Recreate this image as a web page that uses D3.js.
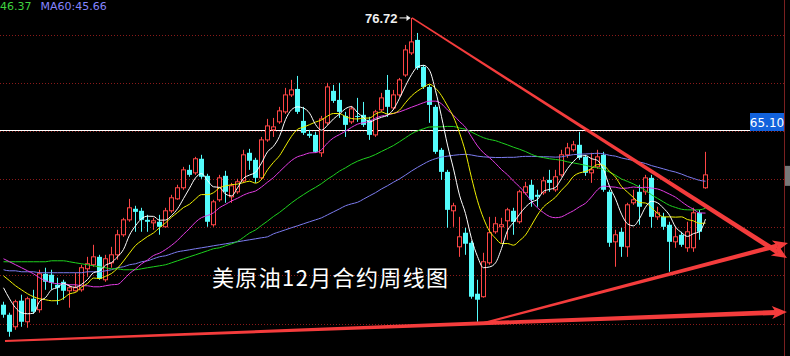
<!DOCTYPE html>
<html><head><meta charset="utf-8">
<script src="https://cdn.jsdelivr.net/npm/d3@7"></script>
<style>html,body{margin:0;padding:0;background:#000;overflow:hidden}svg{display:block}</style>
</head><body><svg id="c" width="790" height="356"></svg>
<script>
// ---- data (weekly candles, USD) ----
const open=[46.95,45.91,44.66,47.37,45.18,47.57,46.43,50.16,50.06,49.02,
49.33,48.40,48.40,48.50,50.68,51.10,51.92,49.54,51.30,52.13,
54.21,55.76,56.91,56.70,55.76,55.45,55.56,55.04,56.70,57.94,
59.09,60.95,60.64,62.10,60.33,55.25,57.84,60.33,58.15,58.67,
59.81,62.72,61.99,60.12,64.06,65.10,65.93,66.97,68.73,69.35,
66.03,64.69,64.58,62.72,65.83,69.15,68.21,66.55,65.93,66.55,
66.66,66.14,64.58,67.18,69.25,67.38,68.73,70.80,73.09,74.44,
71.64,69.56,67.49,63.03,60.74,56.70,52.96,54.42,53.38,48.09,
47.78,51.30,54.52,55.04,55.66,56.70,55.56,58.57,59.40,58.36,
58.57,59.91,58.88,60.43,62.51,63.03,63.55,62.30,60.64,61.26,
62.51,58.67,53.48,54.52,52.96,57.53,58.67,58.67,60.12,56.07,
56.07,55.25,53.48,54.21,52.86,52.86,56.49,59.09];
const high=[47.26,46.12,47.47,47.99,47.78,48.50,50.58,50.79,50.58,49.75,
49.54,49.02,50.27,51.10,51.92,53.17,52.13,52.13,52.96,54.73,
55.97,57.94,57.22,57.01,56.28,55.97,56.28,57.01,58.36,59.40,
61.26,61.47,62.30,62.51,60.54,57.84,60.43,60.85,59.60,60.02,
63.03,63.13,62.20,64.37,66.24,66.34,67.49,69.46,70.29,70.70,
67.49,65.10,64.89,66.55,69.98,69.77,69.98,66.97,67.59,68.42,
68.00,66.45,67.18,68.94,70.80,69.25,70.49,73.92,76.72,75.16,
71.84,69.77,67.69,63.23,60.95,57.53,56.07,54.94,53.59,49.54,
52.34,56.07,56.07,55.97,57.01,57.01,58.88,59.71,59.91,58.88,
60.23,60.95,60.95,63.03,63.75,63.96,64.89,62.51,62.72,63.03,
62.82,58.88,54.73,54.94,57.53,58.88,59.40,60.43,60.43,57.12,
56.49,55.56,55.04,54.52,55.56,57.01,56.80,62.82];
const low=[45.60,43.63,44.35,44.66,44.56,46.01,46.12,48.50,48.50,46.95,
47.47,46.64,48.30,48.30,49.85,50.89,49.54,49.33,50.79,51.62,
54.00,55.56,54.52,54.52,54.52,54.73,54.21,54.94,56.49,57.84,
58.88,60.23,60.43,60.02,55.04,55.04,57.63,57.53,57.53,58.46,
59.60,60.95,59.60,59.91,63.86,64.37,65.72,66.76,68.52,66.76,
64.58,64.27,62.72,62.30,65.62,67.90,66.34,64.37,65.72,65.93,
65.41,64.06,64.37,66.97,66.45,67.18,68.52,70.60,72.88,71.32,
69.35,65.83,62.61,59.91,54.94,55.04,51.92,52.13,47.57,45.18,
47.68,51.10,54.31,53.38,53.69,54.21,55.35,58.36,57.12,57.12,
58.36,58.67,58.67,60.23,62.20,62.82,61.99,60.33,59.60,61.06,
58.67,52.96,50.89,51.92,51.92,57.32,55.25,58.36,54.94,55.76,
54.73,50.37,52.86,52.96,52.44,52.44,53.69,58.98];
const close=[45.91,44.14,47.26,45.18,47.57,46.22,50.16,49.33,49.23,48.71,
48.40,48.71,48.71,50.79,51.20,51.92,49.64,51.72,52.13,54.21,
55.76,57.01,56.59,55.76,55.56,55.66,55.04,56.70,58.05,59.09,
60.95,60.43,62.10,60.23,55.56,57.63,60.12,58.67,59.29,59.71,
62.51,61.89,60.12,64.06,65.51,65.41,67.07,68.73,69.25,66.97,
64.79,64.48,62.82,66.24,69.56,68.11,66.97,65.62,67.28,66.45,
65.62,64.58,66.97,68.42,67.49,68.73,70.29,73.40,74.23,71.53,
69.56,67.69,62.82,60.74,56.80,57.22,54.00,53.28,47.78,47.47,
51.41,54.42,55.35,55.25,56.80,55.56,58.67,59.19,57.84,58.15,
59.81,59.60,60.23,62.51,63.23,63.55,62.20,60.64,60.95,62.30,
58.88,53.38,54.21,52.96,57.32,57.84,57.12,60.12,56.07,56.49,
55.04,53.48,54.00,53.17,54.52,56.49,54.52,60.43];
// moving-average lines
const ma5=[48.71,47.57,46.64,46.12,
46.01,46.07,47.28,47.69,48.50,48.73,49.17,48.88,48.75,49.06,
49.56,50.27,50.45,51.05,51.32,51.92,52.69,54.17,55.14,55.87,
56.14,56.12,55.72,55.74,56.20,56.91,57.97,59.04,60.12,60.56,
59.85,59.19,59.13,58.44,58.25,59.08,60.06,60.41,60.70,61.66,
62.82,63.40,64.43,66.16,67.19,67.49,67.36,66.84,65.66,65.06,
65.58,66.24,66.74,67.30,67.51,66.89,66.39,65.91,66.18,66.41,
66.62,67.24,68.38,69.67,70.83,71.64,71.80,71.28,69.17,66.47,
63.52,61.05,58.32,56.41,53.82,51.95,50.79,50.87,51.29,52.78,
54.65,55.48,56.33,57.09,57.61,57.88,58.73,58.92,59.13,60.06,
61.08,61.82,62.34,62.43,62.11,61.93,60.99,59.23,57.94,56.35,
55.35,55.14,55.89,57.07,57.69,57.53,56.97,56.24,55.02,54.44,
54.04,54.33,54.54,55.83];
const ma10=[49.95,49.44,48.92,48.50,48.09,47.78,47.57,47.47,47.36,
47.37,47.62,48.08,48.22,48.78,49.15,49.72,49.66,49.90,50.19,
50.74,51.48,52.31,53.10,53.59,54.03,54.40,54.94,55.44,56.03,
56.52,57.04,57.38,57.93,58.38,58.38,58.58,59.09,59.28,59.41,
59.47,59.63,59.77,59.57,59.96,60.95,61.73,62.42,63.43,64.43,
65.15,65.38,65.64,65.91,66.13,66.53,66.80,66.79,66.48,66.28,
66.23,66.32,66.33,66.74,66.96,66.75,66.81,67.15,67.92,68.62,
69.13,69.52,69.83,69.42,68.65,67.58,66.43,64.80,62.79,60.14,
57.74,55.92,54.59,53.85,53.30,53.30,53.13,53.60,54.19,55.20,
56.26,57.10,57.62,58.11,58.84,59.48,60.28,60.63,60.78,61.09,
61.50,61.41,60.79,60.19,59.23,58.64,58.07,57.56,57.51,57.02,
56.44,56.06,56.07,56.04,56.07,55.79,55.65,55.39,55.42];
const ma20=[51.72,51.41,51.10,50.79,50.47,50.16,49.75,49.44,49.23,49.13,49.13,49.02,49.02,48.92,48.92,48.81,48.81,48.92,49.02,
49.06,49.55,50.19,50.66,51.19,51.59,52.06,52.30,52.67,53.11,
53.63,54.26,54.85,55.52,55.99,56.21,56.49,57.02,57.36,57.72,
58.00,58.33,58.58,58.75,59.17,59.67,60.15,60.76,61.36,61.92,
62.31,62.50,62.71,62.74,63.04,63.74,64.27,64.61,64.96,65.36,
65.69,65.85,65.98,66.32,66.54,66.64,66.81,66.97,67.20,67.45,
67.68,67.92,68.08,68.08,67.80,67.17,66.62,65.97,65.36,64.38,
63.43,62.72,62.21,61.63,60.97,60.44,59.78,59.20,58.49,57.67,
57.00,56.51,56.11,55.98,56.07,56.39,56.71,57.12,57.48,58.14,
58.88,59.26,59.20,59.15,59.03,59.06,59.17,59.10,59.14,59.05,
58.97,58.73,58.43,58.11,57.65,57.21,56.86,56.48,56.46];
const ma40=[51.41,51.41,51.41,51.41,51.41,51.41,51.41,51.41,51.51,51.51,51.51,
51.41,51.30,51.20,51.10,50.99,50.89,50.79,50.68,50.68,50.58,50.58,50.58,50.68,50.79,
50.89,50.99,51.10,51.30,51.51,51.72,51.93,52.13,52.34,52.55,52.76,52.86,53.07,53.27,
53.53,53.94,54.39,54.71,55.18,55.63,56.11,56.53,57.02,57.52,
57.97,58.38,58.78,59.13,59.52,59.98,60.38,60.82,61.16,61.54,
61.85,62.09,62.28,62.54,62.86,63.16,63.48,63.87,64.28,64.69,
65.00,65.21,65.40,65.41,65.42,65.46,65.45,65.29,65.16,64.87,
64.56,64.29,64.10,63.98,63.76,63.54,63.30,63.09,62.85,62.56,
62.34,62.22,62.10,62.03,61.94,61.78,61.67,61.55,61.42,61.26,
61.16,60.99,60.71,60.39,60.00,59.75,59.48,59.15,58.82,58.36,
57.99,57.62,57.27,57.05,56.86,56.80,56.79,56.80,56.97];
const ma60=[50.58,50.47,50.47,50.37,50.37,50.37,50.27,50.27,50.27,50.27,50.27,50.27,50.27,50.27,
50.37,50.37,50.37,50.47,50.58,50.79,50.89,51.10,51.20,51.41,51.51,51.72,51.93,52.03,52.24,
52.44,52.55,52.65,52.76,52.86,52.96,53.07,53.17,53.27,53.38,53.48,53.59,53.69,53.79,53.90,
54.00,54.31,54.52,54.73,54.94,55.14,55.35,55.56,55.76,55.97,56.28,56.59,56.90,57.22,57.42,
57.58,57.91,58.25,58.58,58.97,59.30,59.67,60.01,60.41,60.83,
61.21,61.56,61.88,62.11,62.28,62.37,62.46,62.53,62.56,62.49,
62.37,62.30,62.26,62.23,62.23,62.25,62.25,62.31,62.35,62.35,
62.33,62.31,62.30,62.27,62.30,62.43,62.53,62.57,62.60,62.63,
62.67,62.61,62.46,62.37,62.18,62.05,61.92,61.76,61.61,61.39,
61.22,61.05,60.87,60.72,60.51,60.26,60.06,59.86,59.77];
const gridPrices=[45,50,55,60,65,70,75];
const highLabel={index:68, price:76.72, text:"76.72"};
const priceLine={price:65.10, text:"65.10"};
const legendTexts=[{text:"46.37",color:"#3fd23f"},{text:"MA60:45.66",color:"#8585ff"}];
const title="美原油12月合约周线图";
// hand-drawn trend lines: [candle index, price]
const trendLines=[
  {from:[68.08,76.72], to:[130.58,51.80], w0:1.5, w1:5},
  {from:[79.4,44.95], to:[130.75,53.36], w0:2, w1:4.5},
  {from:[0.25,43.18], to:[130.58,46.19], w0:2, w1:5}
];

// ---- drawing ----
const W=790,H=356, plotRight=784;
const svg=d3.select("#c");
svg.append("rect").attr("width",W).attr("height",H).attr("fill","#000");
const x=d3.scaleLinear().domain([0,117]).range([3.5,705.5]);
const y=d3.scaleLinear().domain([45,75]).range([323.5,34.5]);

// dotted grid
svg.append("g").selectAll("line").data(gridPrices).join("line")
  .attr("x1",0).attr("x2",plotRight)
  .attr("y1",d=>Math.round(y(d))+0.5).attr("y2",d=>Math.round(y(d))+0.5)
  .attr("stroke","#8a1a1a").attr("stroke-dasharray","1,2").attr("stroke-width",1);

// right frame line
svg.append("line").attr("x1",plotRight+0.5).attr("x2",plotRight+0.5).attr("y1",0).attr("y2",H)
  .attr("stroke","#7a2020").attr("stroke-width",1);

// current price line 65.10
const py=Math.round(y(priceLine.price))+0.5;
svg.append("line").attr("x1",0).attr("x2",plotRight-34).attr("y1",py).attr("y2",py)
  .attr("stroke","#ffffff").attr("stroke-width",1);

const n=close.length;
const idx=d3.range(n);
const up=i=>close[i]>=open[i];
const RED="#ff4646", CYAN="#54fcfc";
const cg=svg.append("g");
// wicks
cg.selectAll("line.w").data(idx).join("line").attr("class","w")
  .attr("x1",i=>x(i)).attr("x2",i=>x(i))
  .attr("y1",i=>y(high[i])).attr("y2",i=>y(low[i]))
  .attr("stroke",i=>up(i)?RED:CYAN).attr("stroke-width",1);
// bodies
cg.selectAll("rect.b").data(idx).join("rect").attr("class","b")
  .attr("x",i=>up(i)?x(i)-2:x(i)-2.5)
  .attr("width",i=>up(i)?4:5)
  .attr("y",i=>y(Math.max(open[i],close[i])))
  .attr("height",i=>Math.max(1,Math.abs(y(open[i])-y(close[i]))))
  .attr("fill",i=>up(i)?"#000":CYAN)
  .attr("stroke",i=>up(i)?RED:"none").attr("stroke-width",1);

// moving averages
const mas=[
  {v:ma60,c:"#7c7cf0"},{v:ma40,c:"#1ed21e"},{v:ma20,c:"#e33ce3"},
  {v:ma10,c:"#f0f000"},{v:ma5,c:"#ffffff"}];
const line=d3.line().x((d,i)=>x(i)).y(d=>y(d)).curve(d3.curveMonotoneX);
mas.forEach(m=>{
  svg.append("path").attr("d",line(m.v)).attr("fill","none")
    .attr("stroke",m.c).attr("stroke-width",1);
});

// trend lines (tapered, with arrow heads)
const TL="#f43c3c";
trendLines.forEach(t=>{
  const x0=x(t.from[0]),y0=y(t.from[1]),x1=x(t.to[0]),y1=y(t.to[1]);
  const L=Math.hypot(x1-x0,y1-y0), dx=(x1-x0)/L, dy=(y1-y0)/L, nx=-dy, ny=dx;
  const head=15, hw=6.5;
  const bx=x1-dx*head, by=y1-dy*head;
  const pts=[[x0+nx*t.w0/2,y0+ny*t.w0/2],[bx+dx*4+nx*t.w1/2,by+dy*4+ny*t.w1/2],
             [bx+dx*4-nx*t.w1/2,by+dy*4-ny*t.w1/2],[x0-nx*t.w0/2,y0-ny*t.w0/2]];
  svg.append("path").attr("d","M"+pts.map(p=>p.join(",")).join("L")+"Z").attr("fill",TL);
  const ah=[[x1,y1],[bx+nx*hw,by+ny*hw],[bx+dx*4,by+dy*4],[bx-nx*hw,by-ny*hw]];
  svg.append("path").attr("d","M"+ah.map(p=>p.join(",")).join("L")+"Z").attr("fill",TL);
});

// high label 76.72 with arrow
const hx=x(highLabel.index), hy=y(highLabel.price);
svg.append("text").attr("x",hx-14).attr("y",hy+5).attr("text-anchor","end")
  .attr("font-family","Liberation Sans, Arial, sans-serif").attr("font-weight","bold")
  .attr("font-size",13).attr("fill","#f0f0f0").text(highLabel.text);
svg.append("line").attr("x1",hx-12).attr("x2",hx-2).attr("y1",hy).attr("y2",hy)
  .attr("stroke","#f0f0f0").attr("stroke-width",1);
svg.append("path").attr("d",`M${hx-1},${hy}L${hx-5},${hy-3}L${hx-5},${hy+3}Z`).attr("fill","#f0f0f0");

// price label box
svg.append("rect").attr("x",plotRight-34).attr("y",py-17.5).attr("width",34).attr("height",18)
  .attr("fill","#1262dc");
svg.append("text").attr("x",plotRight-17).attr("y",py-4).attr("text-anchor","middle")
  .attr("font-family","DejaVu Sans, sans-serif").attr("font-size",12).attr("fill","#fff")
  .text(priceLine.text);

// last price tag stub at right edge
svg.append("rect").attr("x",plotRight+1).attr("y",y(close[n-1])-9).attr("width",W-plotRight-1).attr("height",20)
  .attr("fill","#777");

// legend (kept fully inside the top edge)
const lg=svg.append("text").attr("x",0).attr("y",9.5)
  .attr("font-family","DejaVu Sans, sans-serif").attr("font-size",11);
legendTexts.forEach((t,k)=>{
  lg.append("tspan").attr("dx",k?9:0).attr("fill",t.color).text(t.text);
});

// title
svg.append("text").attr("x",212).attr("y",286)
  .attr("font-family","Noto Sans CJK SC, sans-serif").attr("font-size",22)
  .attr("fill","#ffffff").attr("textLength",236).attr("lengthAdjust","spacing").text(title);
</script>
</body></html>
